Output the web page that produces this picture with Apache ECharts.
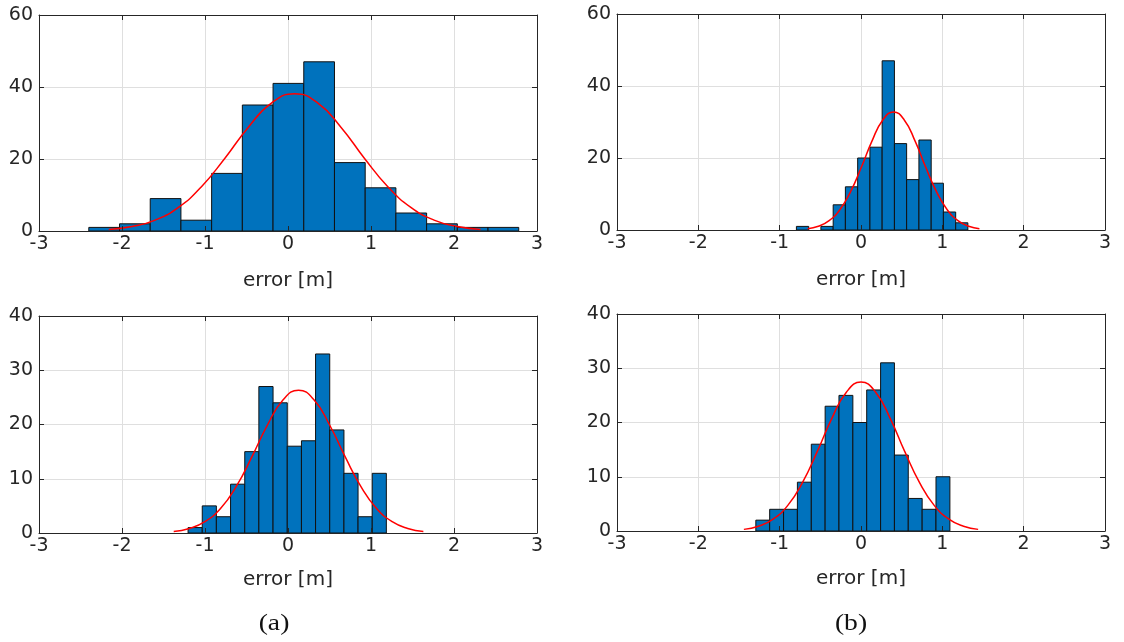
<!DOCTYPE html>
<html>
<head>
<meta charset="utf-8">
<script src="https://cdn.jsdelivr.net/npm/echarts@6/dist/echarts.min.js"></script>
<style>
html,body{margin:0;padding:0;background:#fff;}
#chart{width:1124px;height:642px;}
</style>
</head>
<body>
<div id="chart"></div>
<script>
// ---- Data ----
const xTicks = [-3, -2, -1, 0, 1, 2, 3];
const yTicksTop = [0, 20, 40, 60];
const yTicksBottom = [0, 10, 20, 30, 40];
const xAxisLabel = 'error [m]';
const panelLabels = ['(a)', '(b)'];

// top-left (a)
const edgesTL = [-2.40, -2.03, -1.66, -1.29, -0.92, -0.55, -0.18, 0.19, 0.56, 0.93, 1.30, 1.67, 2.04, 2.41, 2.78];
const countsTL = [1, 2, 9, 3, 16, 35, 41, 47, 19, 12, 5, 2, 1, 1];
const fitXTL = [-2.16, -1.88, -1.60, -1.32, -1.04, -0.76, -0.48, -0.20, 0.08, 0.36, 0.64, 0.92, 1.20, 1.48, 1.76, 2.04, 2.32];
const fitYTL = [0.42, 1.22, 3.03, 6.55, 12.38, 20.23, 28.77, 35.51, 38.1, 35.51, 28.77, 20.23, 12.38, 6.55, 3.03, 1.22, 0.42];

// top-right (b)
const edgesTR = [-0.794, -0.643, -0.493, -0.342, -0.192, -0.041, 0.110, 0.260, 0.411, 0.561, 0.712, 0.863, 1.013, 1.164, 1.314];
const countsTR = [1, 0, 1, 7, 12, 20, 23, 47, 24, 14, 25, 13, 5, 2];
const fitXTR = [-0.656, -0.524, -0.392, -0.260, -0.128, 0.004, 0.136, 0.268, 0.400, 0.532, 0.664, 0.796, 0.928, 1.060, 1.192, 1.324, 1.456];
const fitYTR = [0.36, 1.05, 2.61, 5.64, 10.66, 17.42, 24.76, 30.57, 32.8, 30.57, 24.76, 17.42, 10.66, 5.64, 2.61, 1.05, 0.36];

// bottom-left (a)
const edgesBL = [-1.204, -1.033, -0.863, -0.692, -0.521, -0.351, -0.180, -0.009, 0.162, 0.332, 0.503, 0.674, 0.844, 1.015, 1.185];
const countsBL = [1, 5, 3, 9, 15, 27, 24, 16, 17, 33, 19, 11, 3, 11];
const fitXBL = [-1.377, -1.189, -1.001, -0.813, -0.625, -0.437, -0.249, -0.061, 0.127, 0.315, 0.503, 0.691, 0.879, 1.067, 1.255, 1.443, 1.631];
const fitYBL = [0.29, 0.84, 2.09, 4.52, 8.55, 13.97, 19.86, 24.51, 26.3, 24.51, 19.86, 13.97, 8.55, 4.52, 2.09, 0.84, 0.29];

// bottom-right (b)
const edgesBR = [-1.293, -1.123, -0.952, -0.782, -0.611, -0.441, -0.271, -0.100, 0.070, 0.241, 0.411, 0.581, 0.752, 0.922, 1.093];
const countsBR = [2, 4, 4, 9, 16, 23, 25, 20, 26, 31, 14, 6, 4, 10];
const fitXBR = [-1.44, -1.26, -1.08, -0.90, -0.72, -0.54, -0.36, -0.18, 0.00, 0.18, 0.36, 0.54, 0.72, 0.90, 1.08, 1.26, 1.44];
const fitYBR = [0.30, 0.88, 2.19, 4.72, 8.92, 14.58, 20.72, 25.58, 27.45, 25.58, 20.72, 14.58, 8.92, 4.72, 2.19, 0.88, 0.30];

// ---- Layout / style ----
const FONT = '"DejaVu Sans", "Liberation Sans", Arial, sans-serif';
const AX = '#262626';
const GRIDC = '#dfdfdf';
const BAR = '#0072BD';

const panels = [
  {grid: {left: 39, top: 15, width: 498, height: 216}, nameGap: 40, edges: edgesTL, counts: countsTL, fx: fitXTL, fy: fitYTL, yt: yTicksTop},
  {grid: {left: 617, top: 14, width: 488, height: 216}, nameGap: 40, edges: edgesTR, counts: countsTR, fx: fitXTR, fy: fitYTR, yt: yTicksTop},
  {grid: {left: 39, top: 316, width: 498, height: 217}, nameGap: 37, edges: edgesBL, counts: countsBL, fx: fitXBL, fy: fitYBL, yt: yTicksBottom},
  {grid: {left: 617, top: 314, width: 488, height: 217}, nameGap: 38, edges: edgesBR, counts: countsBR, fx: fitXBR, fy: fitYBR, yt: yTicksBottom}
];

const grids = [], xAxes = [], yAxes = [], series = [];
panels.forEach(function (p, i) {
  grids.push(Object.assign({containLabel: false}, p.grid));
  const xMin = xTicks[0], xMax = xTicks[xTicks.length - 1];
  const xInt = xTicks[1] - xTicks[0];
  const yMin = p.yt[0], yMax = p.yt[p.yt.length - 1];
  const yInt = p.yt[1] - p.yt[0];
  const xi = xAxes.length, yi = yAxes.length;
  // main bottom x axis (labels, vertical grid lines, behind bars)
  xAxes.push({
    type: 'value', gridIndex: i, position: 'bottom', min: xMin, max: xMax, interval: xInt, z: 0,
    name: xAxisLabel, nameLocation: 'middle', nameGap: p.nameGap,
    nameTextStyle: {fontFamily: FONT, fontSize: 20, color: AX},
    axisLine: {show: false},
    axisTick: {show: false},
    axisLabel: {fontFamily: FONT, fontSize: 19, color: AX, margin: 4},
    splitLine: {show: true, lineStyle: {color: GRIDC, width: 1}}
  });
  // overlay bottom axis (line + ticks on top of bars)
  xAxes.push({
    type: 'value', gridIndex: i, position: 'bottom', min: xMin, max: xMax, interval: xInt, z: 10,
    axisLine: {show: true, onZero: false, lineStyle: {color: AX, width: 1}},
    axisTick: {show: true, inside: true, length: 5, lineStyle: {color: AX}},
    axisLabel: {show: false}, splitLine: {show: false}
  });
  // top axis (box)
  xAxes.push({
    type: 'value', gridIndex: i, position: 'top', min: xMin, max: xMax, interval: xInt, z: 10,
    axisLine: {show: true, onZero: false, lineStyle: {color: AX, width: 1}},
    axisTick: {show: true, inside: true, length: 5, lineStyle: {color: AX}},
    axisLabel: {show: false}, splitLine: {show: false}
  });
  // horizontal grid lines axis (behind bars)
  yAxes.push({
    type: 'value', gridIndex: i, position: 'left', min: yMin, max: yMax, interval: yInt, z: 0,
    axisLine: {show: false}, axisTick: {show: false}, axisLabel: {show: false},
    splitLine: {show: true, lineStyle: {color: GRIDC, width: 1}}
  });
  // left y axis (labels)
  yAxes.push({
    type: 'value', gridIndex: i, position: 'left', min: yMin, max: yMax, interval: yInt, z: 10,
    axisLine: {show: true, onZero: false, lineStyle: {color: AX, width: 1}},
    axisTick: {show: true, inside: true, length: 5, lineStyle: {color: AX}},
    axisLabel: {fontFamily: FONT, fontSize: 19, color: AX, margin: 6},
    splitLine: {show: false}
  });
  // right y axis (box)
  yAxes.push({
    type: 'value', gridIndex: i, position: 'right', min: yMin, max: yMax, interval: yInt, z: 10,
    axisLine: {show: true, onZero: false, lineStyle: {color: AX, width: 1}},
    axisTick: {show: true, inside: true, length: 5, lineStyle: {color: AX}},
    axisLabel: {show: false},
    splitLine: {show: false}
  });
  // histogram bars
  const barData = p.counts.map(function (c, k) { return [p.edges[k], p.edges[k + 1], c]; });
  series.push({
    type: 'custom', xAxisIndex: xi, yAxisIndex: yi, z: 3,
    encode: {x: [0, 1], y: 2},
    data: barData,
    renderItem: function (params, api) {
      const c = api.value(2);
      if (!c) return null;
      const p0 = api.coord([api.value(0), 0]);
      const p1 = api.coord([api.value(1), c]);
      return {
        type: 'rect',
        shape: {x: p0[0], y: p1[1], width: p1[0] - p0[0], height: p0[1] - p1[1]},
        style: {fill: BAR, stroke: '#111', lineWidth: 1}
      };
    }
  });
  // fitted normal curve
  series.push({
    type: 'line', xAxisIndex: xi, yAxisIndex: yi, z: 5,
    data: p.fx.map(function (x, k) { return [x, p.fy[k]]; }),
    smooth: 0.5, showSymbol: false, symbol: 'none',
    lineStyle: {color: '#ff0000', width: 1.5},
    itemStyle: {color: '#ff0000'}
  });
});

const labelFont = '23px "Liberation Serif", "Times New Roman", serif';
const chart = echarts.init(document.getElementById('chart'), null, {renderer: 'canvas'});
chart.setOption({
  backgroundColor: '#ffffff',
  animation: false,
  grid: grids,
  xAxis: xAxes,
  yAxis: yAxes,
  series: series,
  graphic: [
    {type: 'text', x: 274, y: 624, scaleX: 1.2, style: {text: panelLabels[0], font: labelFont, fill: '#111', textAlign: 'center', textVerticalAlign: 'middle'}},
    {type: 'text', x: 851, y: 624, scaleX: 1.2, style: {text: panelLabels[1], font: labelFont, fill: '#111', textAlign: 'center', textVerticalAlign: 'middle'}}
  ]
});
</script>
</body>
</html>
